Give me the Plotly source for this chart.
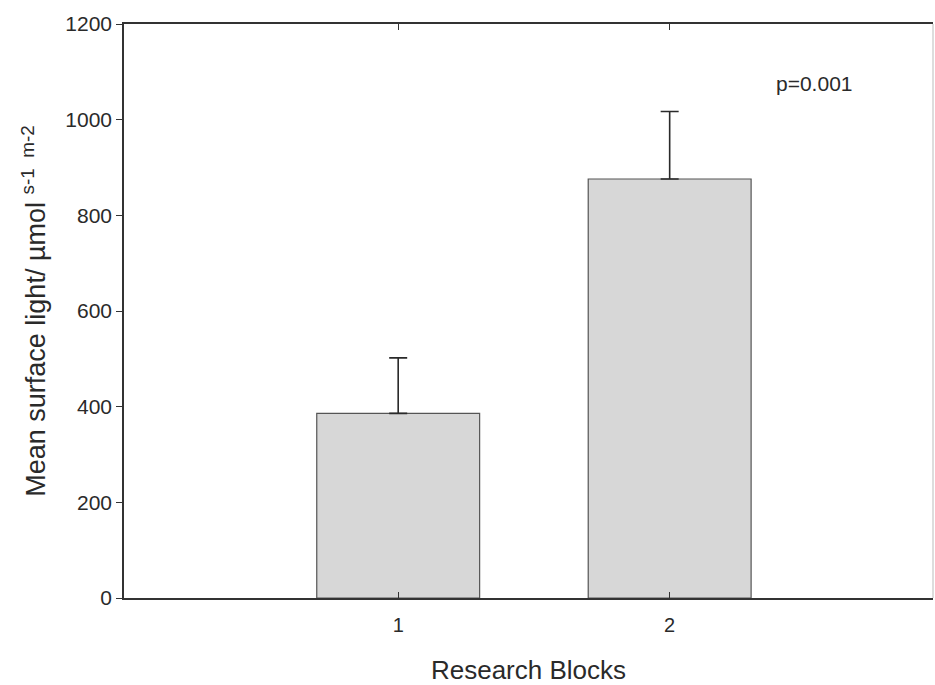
import plotly.graph_objects as go

blocks = [1, 2]
means = [386, 876]
err_up = [116, 141]
y_ticks = [0, 200, 400, 600, 800, 1000, 1200]
x_ticks = [1, 2]

fig = go.Figure()
fig.add_trace(go.Bar(
    x=blocks, y=means, width=0.6,
    marker=dict(color="#d7d7d7", line=dict(color="#555555", width=1.2)),
    error_y=dict(type="data", array=err_up, arrayminus=[0, 0], symmetric=False,
                 color="#2a2a2a", thickness=1.6, width=9),
    showlegend=False,
))

fig.add_annotation(x=2.533, y=1075, text="p=0.001", showarrow=False,
                   xref="x", yref="y", font=dict(size=21, color="#2a2a2a"))

# faint right frame line
fig.add_shape(type="line", xref="paper", yref="paper", x0=1, x1=1, y0=0, y1=1,
              line=dict(color="#bbbbbb", width=1))

fig.update_layout(
    width=935, height=685,
    margin=dict(l=124, r=2, t=24, b=87),
    paper_bgcolor="white", plot_bgcolor="white",
    font=dict(family="Liberation Sans, Arial, sans-serif", color="#2a2a2a", size=20),
    xaxis=dict(range=[-0.01, 2.97], tickvals=x_ticks, ticktext=[str(v) for v in x_ticks],
               ticks="inside", ticklen=6, tickcolor="#333", showline=True, linecolor="#333",
               linewidth=1.5, mirror="allticks", showgrid=False, zeroline=False,
               tickfont=dict(size=20), ticklabelstandoff=8,
               title=dict(text="Research Blocks", font=dict(size=26), standoff=26)),
    yaxis=dict(range=[0, 1200], tickvals=y_ticks, ticks="outside", ticklen=6, tickcolor="#333",
               showline=True, linecolor="#333", linewidth=1.5, mirror=False,
               showgrid=False, zeroline=False, tickfont=dict(size=21),
               title=dict(text="Mean surface light/ µmol <sup>s-1&nbsp;&nbsp;m-2</sup>",
                          font=dict(size=27), standoff=12)),
)

fig.write_html("out.html")
